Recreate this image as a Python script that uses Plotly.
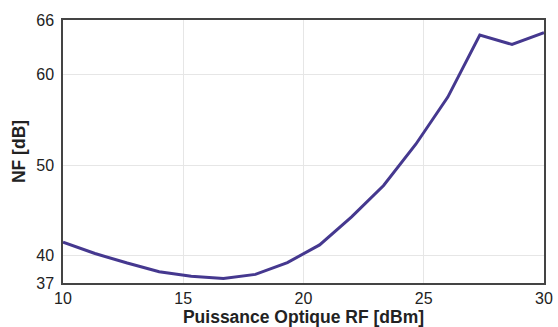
import plotly.graph_objects as go

power_dbm = [10, 11.33, 12.67, 14, 15.33, 16.67, 18, 19.33, 20.67, 22, 23.33, 24.67, 26, 27.33, 28.67, 30]
nf_db = [41.5, 40.25, 39.2, 38.25, 37.75, 37.5, 37.95, 39.25, 41.2, 44.3, 47.75, 52.3, 57.5, 64.35, 63.3, 64.6]

y_ticks = [37, 40, 50, 60, 66]
x_ticks = [10, 15, 20, 25, 30]

fig = go.Figure()
fig.add_trace(go.Scatter(x=power_dbm, y=nf_db, mode="lines",
                         line=dict(color="#45388F", width=3), showlegend=False,
                         hoverinfo="skip"))

fig.update_layout(
    width=558, height=327,
    margin=dict(l=63, r=14, t=20, b=44),
    paper_bgcolor="white", plot_bgcolor="white",
    font=dict(family="Liberation Sans, Arial, sans-serif", color="#222", size=16),
)
fig.update_xaxes(
    range=[10, 30], tickvals=x_ticks, showgrid=True, gridcolor="#e6e6e6", gridwidth=1,
    showline=True, linecolor="#444", linewidth=1.5, mirror=True, zeroline=False,
    ticks="outside", ticklen=0, tickcolor="rgba(0,0,0,0)", automargin=False,
    title=dict(text="<b>Puissance Optique RF [dBm]</b>", font=dict(size=17.5), standoff=2),
)
fig.update_yaxes(
    range=[37, 66], tickvals=y_ticks, showgrid=True, gridcolor="#e6e6e6", gridwidth=1,
    showline=True, linecolor="#444", linewidth=1.5, mirror=True, zeroline=False,
    ticks="outside", ticklen=4, tickcolor="rgba(0,0,0,0)", automargin=False,
    title=dict(text="<b>NF [dB]</b>", font=dict(size=17.5), standoff=6),
)
fig.write_html("out.html", config={"displayModeBar": False},
               post_script="document.body.style.margin='0';document.body.style.padding='0';")
